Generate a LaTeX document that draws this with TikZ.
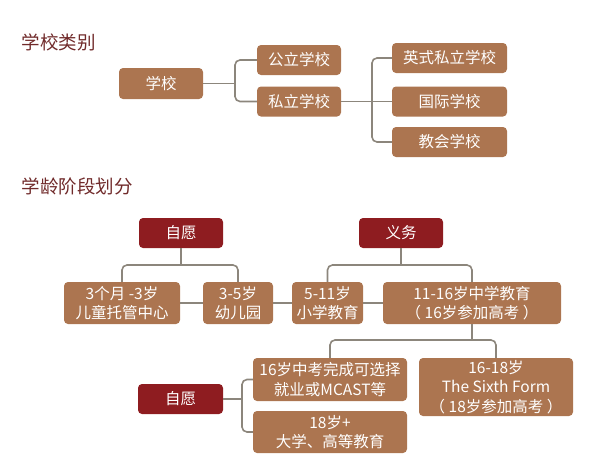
\documentclass[tikz,border=0pt]{standalone}
\usepackage{fontspec}
\newfontfamily\cjk{Noto Sans CJK SC}
\usetikzlibrary{positioning,calc}
\definecolor{boxbrown}{RGB}{172,117,80}
\definecolor{boxred}{RGB}{142,28,32}
\definecolor{titlered}{RGB}{112,42,42}
\definecolor{linegray}{RGB}{140,134,124}

\tikzset{
  box/.style={fill=boxbrown, text=white, rounded corners=4pt, align=center, inner sep=0pt,
              font=\cjk\fontsize{15.5}{19.5}\selectfont},
  redbox/.style={box, fill=boxred},
  link/.style={draw=linegray, line width=1.6pt, rounded corners=5pt},
  heading/.style={anchor=west, text=titlered, font=\cjk\fontsize{18.5}{20}\selectfont}
}

\begin{document}
\begin{tikzpicture}[x=1pt, y=-1pt]
    \useasboundingbox (0,0) rectangle (608,471);

    % school types
    \node[heading] (types) at (18,42) {学校类别};
    \node[box, minimum width=84, minimum height=31] (school) at (161,83.5) {学校};
    \node[box, minimum width=84, minimum height=30] (public) at (299,60) {公立学校};
    \node[box, minimum width=84, minimum height=30] (private) at (299,101.5) {私立学校};
    \node[box, minimum width=115, minimum height=30] (british) at (449.5,58) {英式私立学校};
    \node[box, minimum width=115, minimum height=30] (intl) at (449.5,101.5) {国际学校};
    \node[box, minimum width=115, minimum height=30] (church) at (449.5,142) {教会学校};

    \coordinate (j1) at (235,83.5);
    \coordinate (j2) at (372,101.5);
    \draw[link] (school.east) -- (j1);
    \draw[link] (public.west) -| (j1) |- (private.west);
    \draw[link] (private.east) -- (j2) -- (intl.west);
    \draw[link] (british.west) -| (j2) |- (church.west);

    % school ages
    \node[heading] (ages) at (18,186) {学龄阶段划分};
    \node[redbox, minimum width=84, minimum height=30] (vol1) at (181,233) {自愿};
    \node[redbox, minimum width=84, minimum height=30] (duty) at (401,233) {义务};

    \node[box, minimum width=116, minimum height=42] (nursery) at (122,303) {3个月 -3岁\\儿童托管中心};
    \node[box, minimum width=70, minimum height=42] (kinder) at (238,303) {3-5岁\\幼儿园};
    \node[box, minimum width=71, minimum height=42] (primary) at (327.5,303) {5-11岁\\小学教育};
    \node[box, minimum width=178, minimum height=42] (secondary) at (472,303) {11-16岁中学教育\\（ 16岁参加高考 ）};

    \draw[link] (nursery.east) -- (kinder.west);
    \draw[link] (kinder.east) -- (primary.west);
    \draw[link] (primary.east) -- (secondary.west);

    \coordinate (b1) at (181,265);
    \coordinate (b2) at (401,265);
    \draw[link] (vol1.south) -- (b1);
    \draw[link] (nursery.north) |- (b1) -| (kinder.north);
    \draw[link] (duty.south) -- (b2);
    \draw[link] (primary.north) |- (b2) -| (secondary.north);

    % after 16
    \node[redbox, minimum width=85, minimum height=30] (vol2) at (180.5,399) {自愿};
    \node[box, minimum width=154, minimum height=43] (exam) at (330,379.5) {16岁中考完成可选择\\就业或MCAST等};
    \node[box, minimum width=154, minimum height=42] (uni) at (330,432) {18岁+\\大学、高等教育};
    \node[box, minimum width=154, minimum height=58] (sixth) at (496,387) {16-18岁\\The Sixth Form\\（ 18岁参加高考 ）};

    \coordinate (b3) at (472,340);
    \coordinate (b4) at (242,399);
    \draw[link] (secondary.south) -- (b3);
    \draw[link] (exam.north) |- (b3) -| (sixth.north);
    \draw[link] (vol2.east) -- (b4);
    \draw[link] (exam.west) -| (b4) |- (uni.west);
\end{tikzpicture}
\end{document}
